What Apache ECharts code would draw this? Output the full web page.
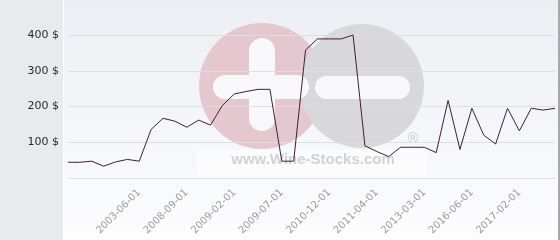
<!DOCTYPE html>
<html><head><meta charset="utf-8">
<script src="https://cdn.jsdelivr.net/npm/echarts@6/dist/echarts.min.js"></script>
<style>html,body{margin:0;padding:0;background:#fff}#c{width:560px;height:240px}</style>
</head><body><div id="c"></div>
<script>
const categories = ['', '', '', '', '', '', '2003-06-01', '', '', '', '2008-09-01', '', '', '', '2009-02-01', '', '', '', '2009-07-01', '', '', '', '2010-12-01', '', '', '', '2011-04-01', '', '', '', '2013-03-01', '', '', '', '2016-06-01', '', '', '', '2017-02-01', '', '', ''];
const prices = [44, 44, 47, 33, 45, 52, 47, 136, 167, 159, 142, 162, 148, 203, 235, 242, 248, 248, 47, 47, 358, 389, 389, 389, 400, 90, 74, 60, 86, 86, 86, 71, 217, 80, 195, 120, 95, 195, 132, 195, 190, 195];
const yTicks = [0, 100, 200, 300, 400];

const chart = echarts.init(document.getElementById('c'), null, {renderer: 'canvas'});
chart.setOption({
  animation: false,
  grid: {left: 68, right: 5, top: 35, height: 143},
  graphic: [
    {type: 'rect', z: -20, shape: {x: 0, y: 0, width: 63, height: 240}, style: {fill: '#e7ebee'}},
    {type: 'rect', z: -20, shape: {x: 64, y: 0, width: 494, height: 240}, style: {fill: new echarts.graphic.LinearGradient(0, 0, 0, 1, [{offset: 0, color: '#eceef3'}, {offset: 1, color: '#fdfdfe'}])}},
    {type: 'rect', z: -20, shape: {x: 558, y: 0, width: 2, height: 240}, style: {fill: '#a8a8a8'}},
    {type: 'circle', z: -10, shape: {cx: 262, cy: 86, r: 63}, style: {fill: '#e5c7d0'}},
    {type: 'circle', z: -9, shape: {cx: 362, cy: 86, r: 62}, style: {fill: '#d8d8da'}},
    {type: 'rect', z: -8, shape: {x: 249, y: 38, width: 26, height: 93, r: 13}, style: {fill: '#f8f8fb'}},
    {type: 'rect', z: -8, shape: {x: 213, y: 75, width: 96, height: 24, r: 12}, style: {fill: '#f8f8fb'}},
    {type: 'rect', z: -8, shape: {x: 315, y: 76, width: 95, height: 23, r: 11.5}, style: {fill: '#f8f8fb'}},
    {type: 'rect', z: -8, shape: {x: 197, y: 150, width: 230, height: 26}, style: {fill: 'rgba(255,255,255,0.55)'}},
    {type: 'text', z: -7, style: {x: 313, y: 160, text: 'www.Wine-Stocks.com', font: 'bold 15px "Liberation Sans", Arial, sans-serif', fill: '#d2d2d4', textAlign: 'center', textVerticalAlign: 'middle'}},
    {type: 'text', z: -7, style: {x: 413, y: 139, text: '®', font: 'bold 14px "Liberation Sans", Arial, sans-serif', fill: '#d2d2d4', textAlign: 'center', textVerticalAlign: 'middle'}}
  ],
  xAxis: {
    type: 'category', data: categories, boundaryGap: false,
    axisLine: {show: false}, axisTick: {show: false},
    axisLabel: {interval: 0, rotate: 45, margin: 13, color: '#9a9a9a', fontSize: 10, fontFamily: 'DejaVu Sans'},
    splitLine: {show: false}
  },
  yAxis: {
    type: 'value', min: yTicks[0], max: yTicks[yTicks.length - 1], interval: 100,
    axisLine: {show: false}, axisTick: {show: false},
    axisLabel: {margin: 9, color: '#2a2a2a', fontSize: 11, fontFamily: 'DejaVu Sans', formatter: v => v === 0 ? '' : v + ' $'},
    splitLine: {lineStyle: {color: '#dedede', width: 1}}
  },
  series: [{
    type: 'line', data: prices, symbol: 'none', clip: false,
    lineStyle: {color: '#3a2232', width: 1}
  }]
});
</script></body></html>
